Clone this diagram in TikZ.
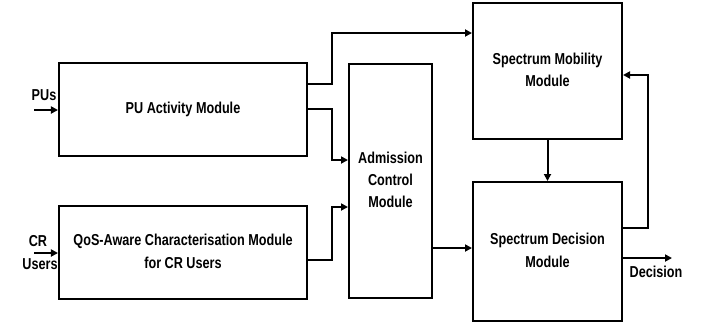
\documentclass[tikz,border=0pt]{standalone}
\usepackage{fontspec}
\setmainfont{Liberation Sans}
\usetikzlibrary{arrows.meta}
\newcommand{\lbl}[1]{\scalebox{1}[1.25]{\begin{tabular}{@{}c@{}}#1\end{tabular}}}
\begin{document}
\begin{tikzpicture}[x=1bp,y=-1bp,
  box/.style={draw, line width=2bp, inner sep=0pt, align=center,
    font=\bfseries\fontsize{12.7}{18}\selectfont},
  lab/.style={inner sep=0pt, font=\bfseries\fontsize{12.7}{18}\selectfont},
  arr/.style={line width=2bp, -{Triangle[length=7bp,width=7bp]}},
  ln/.style={line width=2bp}]
\useasboundingbox (0,0) rectangle (702,326);
\node[box, minimum width=248bp, minimum height=93bp] (pu) at (183,109.5) {\lbl{PU Activity Module}};
\node[box, minimum width=248bp, minimum height=93bp] (qos) at (183,252.5) {\lbl{QoS-Aware Characterisation Module\\for CR Users}};
\node[box, minimum width=83bp, minimum height=234bp] (ac) at (390.5,181) {\lbl{Admission\\Control\\Module}};
\node[box, minimum width=149bp, minimum height=136bp] (sm) at (547.5,71) {\lbl{Spectrum Mobility\\Module}};
\node[box, minimum width=149bp, minimum height=139bp] (sd) at (547.5,251.5) {\lbl{Spectrum Decision\\Module}};
% inputs
\coordinate (puin) at (34,110);
\coordinate (crin) at (34,253);
\draw[arr] (puin) -- (pu.west |- puin);
\draw[arr] (crin) -- (qos.west |- crin);
\node[lab] (pul) at (44,96) {\lbl{PUs}};
\node[lab] (crl) at (38,242) {\lbl{CR}};
\node[lab] (usl) at (40,265) {\lbl{Users}};
% connections
\draw[arr] (pu.east |- 0,84) -- (332,84) |- (sm.west |- 0,33);
\draw[arr] (pu.east |- 0,109) -- (332,109) |- (ac.west |- 0,160);
\draw[arr] (qos.east |- 0,260) -- (332,260) |- (ac.west |- 0,207);
\draw[arr] (ac.east |- 0,248) -- (sd.west |- 0,248);
\draw[arr] (sm.south) -- (sd.north);
\draw[arr] (sd.east |- 0,228) -- (648,228) |- (sm.east |- 0,75);
\coordinate (out) at (672,258);
\draw[arr] (sd.east |- out) -- (out);
\node[lab] (dec) at (656,273) {\lbl{Decision}};
\end{tikzpicture}
\end{document}
